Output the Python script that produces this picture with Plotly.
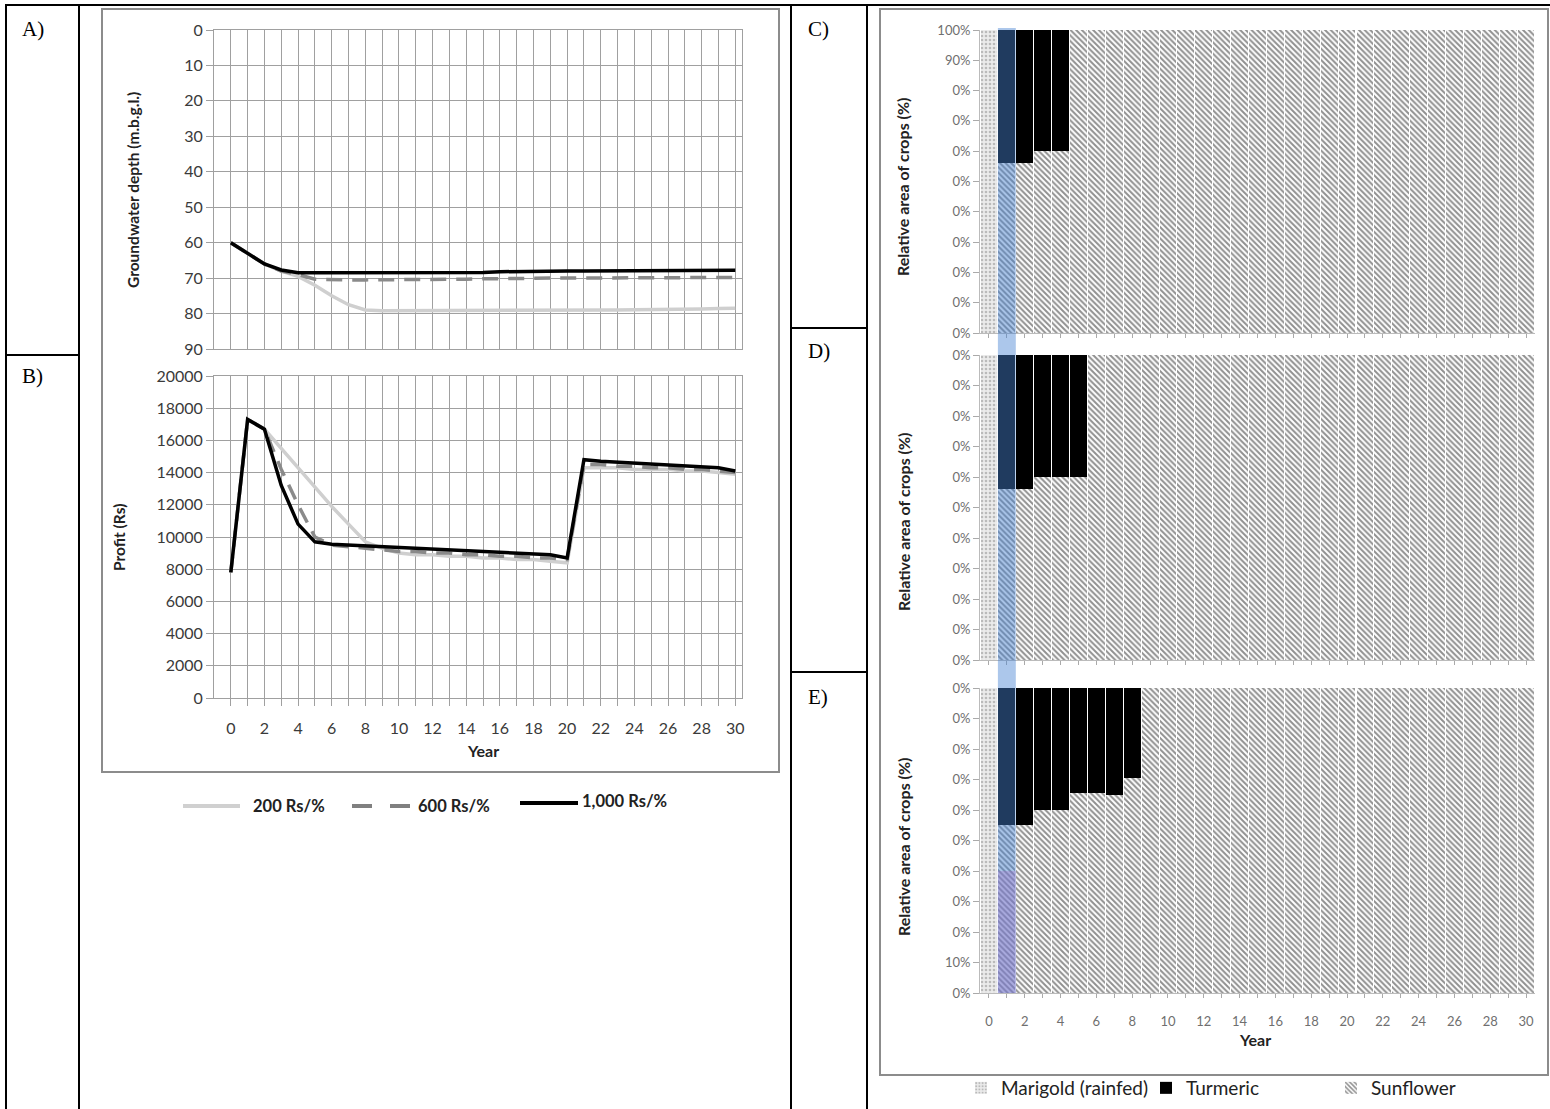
import plotly.graph_objects as go

W, H = 1550, 1109

years = list(range(31))
tick_text_even = [str(y) if y % 2 == 0 else "" for y in years]

# Panel A: groundwater depth (m.b.g.l.)
depth_200 = [60, 63, 66, 68, 69.5, 72, 75, 77.5, 79, 79.2, 79.2, 79.2, 79.2, 79.2, 79.2, 79.2,
             79.2, 79.1, 79.1, 79.1, 79, 79, 79, 79, 78.9, 78.9, 78.8, 78.8, 78.7, 78.6, 78.5]
depth_600 = [60, 63, 66, 68, 69, 70.3, 70.5, 70.5, 70.5, 70.5, 70.5, 70.5, 70.4, 70.4, 70.3, 70.2,
             70.1, 70, 70, 70, 70, 70, 70, 70, 70, 69.9, 69.9, 69.8, 69.8, 69.8, 69.8]
depth_1000 = [60, 63, 66, 67.7, 68.5, 68.5, 68.5, 68.5, 68.5, 68.5, 68.5, 68.5, 68.5, 68.5, 68.5, 68.4,
              68.2, 68.1, 68, 68, 68, 68, 68, 68, 68, 68, 68, 67.9, 67.9, 67.8, 67.8]

# Panel B: profit (Rs)
profit_200 = [7800, 17300, 16700, 15500, 14300, 13100, 11900, 10800, 9700, 9300, 9000, 8900, 8900,
              8800, 8800, 8700, 8700, 8600, 8600, 8500, 8400, 14300, 14300, 14300, 14200, 14200,
              14200, 14100, 14100, 14000, 13900]
profit_600 = [7800, 17300, 16700, 14200, 12000, 10000, 9500, 9400, 9300, 9200, 9100, 9100, 9000,
              9000, 8900, 8900, 8800, 8800, 8700, 8700, 8600, 14500, 14500, 14400, 14400, 14300,
              14300, 14200, 14200, 14100, 14000]
profit_1000 = [7800, 17300, 16700, 13200, 10800, 9700, 9550, 9500, 9450, 9400, 9350, 9300, 9250,
               9200, 9150, 9100, 9050, 9000, 8950, 8900, 8700, 14800, 14700, 14650, 14600, 14550,
               14500, 14450, 14400, 14300, 14100]

# Panels C, D, E: relative crop area (%)
marigold = [100] + [0] * 30
turmeric_C = [0, 44, 44, 40, 40] + [0] * 26
sunflower_C = [0, 56, 56, 60, 60] + [100] * 26
turmeric_D = [0, 44, 44, 40, 40, 40] + [0] * 25
sunflower_D = [0, 56, 56, 60, 60, 60] + [100] * 25
turmeric_E = [0, 45, 45, 40, 40, 34.5, 34.5, 35, 29.5] + [0] * 22
sunflower_E = [0, 55, 55, 60, 60, 65.5, 65.5, 65, 70.5] + [100] * 22

pct_vals = list(range(0, 101, 10))
pct_text_C = ["0%"] * 9 + ["90%", "100%"]
pct_text_D = ["0%"] * 11
pct_text_E = ["0%", "10%"] + ["0%"] * 9

legend_lines = ["200 Rs/%", "600 Rs/%", "1,000 Rs/%"]
crop_names = ["Marigold (rainfed)", "Turmeric", "Sunflower"]


def fx(x):
    return x / W


def fy(y):
    return 1 - y / H


FONT = "Lato"
GRID = "#a0a0a0"

fig = go.Figure()

# ---- line charts ----
line_styles = [
    dict(color="#cfcfcf", width=3.5),
    dict(color="#8a8a8a", width=3.5, dash="16px,10px"),
    dict(color="#000000", width=3.5),
]
for vals, st in zip([depth_200, depth_600, depth_1000], line_styles):
    fig.add_trace(go.Scatter(x=years, y=vals, mode="lines", line=st, xaxis="x", yaxis="y",
                             showlegend=False, hoverinfo="skip"))
for vals, st in zip([profit_200, profit_600, profit_1000], line_styles):
    fig.add_trace(go.Scatter(x=years, y=vals, mode="lines", line=st, xaxis="x2", yaxis="y2",
                             showlegend=False, hoverinfo="skip"))

# ---- bar charts ----
pat_mari = dict(shape=".", bgcolor="#ebebeb", fgcolor="#8a8a8a", size=4, solidity=0.35)
pat_sun = dict(shape="\\", bgcolor="#ffffff", fgcolor="#222222", size=4, solidity=0.5)

panels = [("x3", "y3", turmeric_C, sunflower_C, True),
          ("x4", "y4", turmeric_D, sunflower_D, False),
          ("x5", "y5", turmeric_E, sunflower_E, False)]
for xa, ya, tur, sun, show in panels:
    fig.add_trace(go.Bar(x=years, y=marigold, name=crop_names[0], xaxis=xa, yaxis=ya,
                         marker=dict(color="#ebebeb", pattern=pat_mari, line=dict(width=0)),
                         showlegend=show, legend="legend2", legendrank=1, hoverinfo="skip"))
    fig.add_trace(go.Bar(x=years, y=sun, name=crop_names[2], xaxis=xa, yaxis=ya,
                         marker=dict(color="#ffffff", pattern=pat_sun, line=dict(width=0)),
                         showlegend=show, legend="legend2", legendrank=3, hoverinfo="skip"))
    fig.add_trace(go.Bar(x=years, y=tur, name=crop_names[1], xaxis=xa, yaxis=ya,
                         marker=dict(color="#000000", line=dict(width=0)),
                         showlegend=show, legend="legend2", legendrank=2, hoverinfo="skip"))

tickfont_left = dict(family=FONT, size=16, color="#3a3a3a")
tickfont_right = dict(family=FONT, size=13, color="#6f6f6f")

left_x = dict(domain=[fx(214), fx(742)], range=[-1, 30.4], tickvals=years,
              showgrid=True, gridcolor=GRID, gridwidth=1, zeroline=False,
              showline=True, linecolor=GRID, mirror=True)
fig.update_layout(
    xaxis=dict(**left_x, anchor="y", showticklabels=False, ticks=""),
    yaxis=dict(domain=[fy(349), fy(30)], range=[90, 0], dtick=10, tickfont=tickfont_left,
               ticks="outside", ticklen=7, tickcolor=GRID, showgrid=True, gridcolor=GRID,
               zeroline=False, showline=True, linecolor=GRID, mirror=True, anchor="x"),
    xaxis2=dict(**left_x, anchor="y2", ticktext=tick_text_even, tickfont=tickfont_left,
                ticks="outside", ticklen=7, tickcolor=GRID, ticklabelstandoff=9),
    yaxis2=dict(domain=[fy(698), fy(376)], range=[0, 20000], dtick=2000, tickformat="d",
                tickfont=tickfont_left, ticks="outside", ticklen=7, tickcolor=GRID,
                showgrid=True, gridcolor=GRID, zeroline=False, showline=True,
                linecolor=GRID, mirror=True, anchor="x2"),
)

right_x = dict(domain=[fx(980), fx(1535)], range=[-0.5, 30.5], tickvals=years,
               ticks="outside", ticklen=4, tickcolor="#aaaaaa", showgrid=False,
               zeroline=False, showline=True, linecolor="#bbbbbb")
right_y = dict(range=[0, 100], tickvals=pct_vals, tickfont=tickfont_right, ticks="outside",
               ticklen=6, tickcolor="#aaaaaa", showgrid=False, zeroline=False,
               showline=True, linecolor="#bbbbbb")
fig.update_layout(
    xaxis3=dict(**right_x, anchor="y3", showticklabels=False),
    yaxis3=dict(**right_y, domain=[fy(333), fy(30)], ticktext=pct_text_C, anchor="x3"),
    xaxis4=dict(**right_x, anchor="y4", showticklabels=False),
    yaxis4=dict(**right_y, domain=[fy(660), fy(355)], ticktext=pct_text_D, anchor="x4"),
    xaxis5=dict(**right_x, anchor="y5", ticktext=tick_text_even, tickfont=tickfont_right,
                ticklabelstandoff=12),
    yaxis5=dict(**right_y, domain=[fy(993), fy(688)], ticktext=pct_text_E, anchor="x5"),
)

shapes = []
BL = dict(color="#000000", width=2)


def pline(x0, y0, x1, y1, line):
    shapes.append(dict(type="line", xref="paper", yref="paper", x0=fx(x0), y0=fy(y0),
                       x1=fx(x1), y1=fy(y1), line=line, layer="above"))


# table borders
pline(5, 5, 1550, 5, BL)
pline(6, 4, 6, 1109, BL)
pline(79, 4, 79, 1109, BL)
pline(791, 4, 791, 1109, BL)
pline(867, 4, 867, 1109, BL)
pline(6, 355, 79, 355, BL)
pline(791, 328, 867, 328, BL)
pline(791, 672, 867, 672, BL)

# chart frames
for (x0, y0, x1, y1) in [(102, 9, 779, 772), (880, 9, 1548, 1075)]:
    shapes.append(dict(type="rect", xref="paper", yref="paper", x0=fx(x0), y0=fy(y1),
                       x1=fx(x1), y1=fy(y0), line=dict(color="#8c8c8c", width=2),
                       fillcolor="rgba(0,0,0,0)", layer="below"))

# selection highlight over year 1 column on the right chart
shapes.append(dict(type="rect", xref="x3", yref="paper", x0=0.5, x1=1.5,
                   y0=fy(993), y1=fy(28), fillcolor="rgba(70,130,210,0.45)",
                   line=dict(width=0), layer="above"))
shapes.append(dict(type="rect", xref="x5", yref="y5", x0=0.5, x1=1.5, y0=0, y1=40,
                   fillcolor="rgba(170,110,200,0.30)", line=dict(width=0), layer="above"))

# manual legend for the line charts
pline(183, 806, 240, 806, dict(color="#d0d0d0", width=4))
pline(352, 806, 410, 806, dict(color="#808080", width=4, dash="20px,18px"))
pline(520, 803, 578, 803, dict(color="#000000", width=4))

ann = []


def text(x, y, s, size, family=FONT, color="#222222", bold=False, anchor="left", angle=0):
    ann.append(dict(xref="paper", yref="paper", x=fx(x), y=fy(y), text=f"<b>{s}</b>" if bold else s,
                    showarrow=False, xanchor=anchor, yanchor="middle", textangle=angle,
                    font=dict(family=family, size=size, color=color)))


SERIF = "Liberation Serif"
text(20, 29, "A)", 21, SERIF, "#000000")
text(20, 376, "B)", 21, SERIF, "#000000")
text(806, 29, "C)", 21, SERIF, "#000000")
text(806, 351, "D)", 21, SERIF, "#000000")
text(806, 697, "E)", 21, SERIF, "#000000")

text(251, 806, legend_lines[0], 16.5, bold=True)
text(416, 806, legend_lines[1], 16.5, bold=True)
text(580, 801, legend_lines[2], 16.5, bold=True)

text(133, 190, "Groundwater depth (m.b.g.l.)", 15.5, bold=True, anchor="center", angle=-90)
text(119, 537, "Profit (Rs)", 15.5, bold=True, anchor="center", angle=-90)
text(483, 750, "Year", 16, bold=True, anchor="center")

for yc in [187, 522, 847]:
    text(903, yc, "Relative area of crops (%)", 16, bold=True, anchor="center", angle=-90)
text(1255, 1039, "Year", 16, bold=True, anchor="center")

fig.update_layout(
    width=W, height=H, margin=dict(l=0, r=0, t=0, b=0, pad=0, autoexpand=False),
    paper_bgcolor="white", plot_bgcolor="white",
    barmode="stack", bargap=0.06,
    shapes=shapes, annotations=ann,
    legend2=dict(orientation="h", x=fx(961), y=fy(1088), xanchor="left", yanchor="middle",
                 font=dict(family=FONT, size=19, color="#222222"), bgcolor="rgba(0,0,0,0)",
                 itemwidth=30, traceorder="normal", entrywidth=140, entrywidthmode="pixels"),
    font=dict(family=FONT),
)

post = ("document.documentElement.style.margin='0';document.documentElement.style.padding='0';"
        "document.body.style.margin='0';document.body.style.padding='0';"
        "document.body.style.overflow='hidden';")
fig.write_html("out.html", config={"displayModeBar": False}, post_script=post)
